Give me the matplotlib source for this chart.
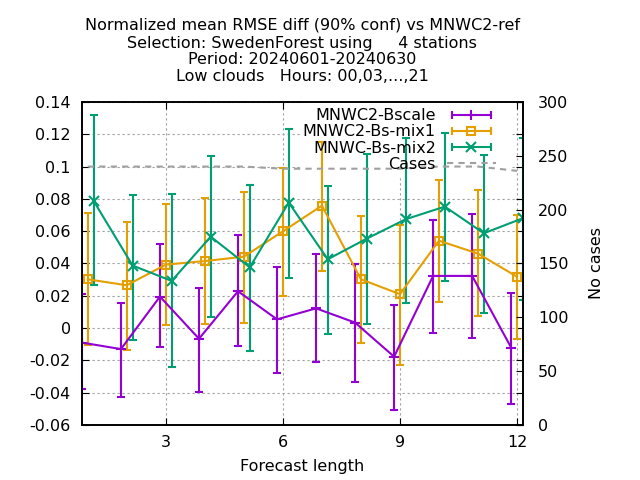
import matplotlib
matplotlib.use("Agg")
import matplotlib.pyplot as plt
from matplotlib.lines import Line2D
from matplotlib.patches import Rectangle
from matplotlib.legend_handler import HandlerLine2D, HandlerTuple

# forecast lengths
lengths = [1, 2, 3, 4, 5, 6, 7, 8, 9, 10, 11, 12]

# MNWC2-Bscale
bscale_mean = [-0.009, -0.013, 0.0195, -0.0066, 0.0228, 0.0054, 0.0122, 0.0034, -0.0177, 0.0323, 0.0323, -0.0121]
bscale_low = [-0.0375, -0.0425, -0.0117, -0.0396, -0.011, -0.0276, -0.0208, -0.0334, -0.0505, -0.0028, -0.0061, -0.047]
bscale_high = [0.021, 0.0157, 0.052, 0.025, 0.0578, 0.038, 0.0459, 0.0397, 0.0143, 0.0669, 0.0707, 0.022]

# MNWC2-Bs-mix1
mix1_mean = [0.0302, 0.0265, 0.0393, 0.0415, 0.0442, 0.0599, 0.0758, 0.0302, 0.021, 0.0541, 0.0461, 0.0318]
mix1_low = [-0.0103, -0.0134, 0.0019, 0.0027, 0.0034, 0.0201, 0.0356, -0.009, -0.0228, 0.0162, 0.0075, -0.0067]
mix1_high = [0.0715, 0.0659, 0.077, 0.0806, 0.0845, 0.0991, 0.1154, 0.0696, 0.0638, 0.0917, 0.0855, 0.07]

# MNWC-Bs-mix2
mix2_mean = [0.0787, 0.0387, 0.0292, 0.0566, 0.0376, 0.0777, 0.0426, 0.0554, 0.0674, 0.0752, 0.0587, 0.068]
mix2_low = [0.0269, -0.0072, -0.0239, 0.0071, -0.014, 0.0312, -0.0035, 0.0027, 0.0157, 0.0293, 0.0095, 0.0174]
mix2_high = [0.1317, 0.0824, 0.0832, 0.1066, 0.0886, 0.1235, 0.088, 0.1078, 0.1179, 0.121, 0.1072, 0.1179]

# number of cases (right axis)
cases = [240, 240, 240, 240, 240, 238, 238, 238, 238, 240, 240, 236]

title_lines = [
    "Normalized mean RMSE diff (90% conf) vs MNWC2-ref",
    "Selection: SwedenForest using     4 stations",
    "Period: 20240601-20240630",
    "Low clouds   Hours: 00,03,...,21",
]

series = [
    ("MNWC2-Bscale", bscale_mean, bscale_low, bscale_high, "#9400d3", "+", -0.15, 7),
    ("MNWC2-Bs-mix1", mix1_mean, mix1_low, mix1_high, "#e69f00", "s", 0.0, 5.5),
    ("MNWC-Bs-mix2", mix2_mean, mix2_low, mix2_high, "#009e73", "x", 0.15, 6.5),
]

FS = 11.5

fig = plt.figure(figsize=(6.4, 4.8), dpi=100)
ax = fig.add_axes([0.128, 0.1146, 0.689, 0.673])
ax2 = ax.twinx()
ax.set_axisbelow(True)

# key area hides the grid like gnuplot does
ax.add_patch(Rectangle((0.494, 0.765), 0.476, 0.235, transform=ax.transAxes,
                       facecolor="white", edgecolor="none", zorder=1))

handles = []
labels = []
handler_map = {}
for name, mean, low, high, color, marker, shift, msize in series:
    xs = [x + shift for x in lengths]
    err = [[m - lo for m, lo in zip(mean, low)], [hi - m for m, hi in zip(mean, high)]]
    ax.errorbar(xs, mean, yerr=err, color=color, lw=1.5, elinewidth=1.5,
                capsize=3, capthick=1.5, marker=marker, ms=msize,
                mfc="none", mew=1.5, zorder=3)
    caps = Line2D([], [], color=color, lw=1.5, marker="|", ms=6, mew=1.5)
    mark = Line2D([], [], color=color, lw=0, marker=marker, ms=msize, mfc="none", mew=1.5)
    handler_map[caps] = HandlerLine2D(numpoints=2)
    handler_map[mark] = HandlerLine2D(numpoints=1)
    handles.append((caps, mark))
    labels.append(name)

ax2.plot(lengths, cases, color="#a0a0a0", lw=1.5, ls=(0, (3, 2.5)))
handles.append(Line2D([], [], color="#a0a0a0", lw=1.5, ls=(0, (3, 2.5))))
labels.append("Cases")
handler_map[tuple] = HandlerTuple(ndivide=1, pad=0)

ax.set_xlim(0.85, 12.15)
ax.set_ylim(-0.06, 0.14)
ax2.set_ylim(0, 300)

ax.set_xticks([3, 6, 9, 12])
ax.set_yticks([-0.06, -0.04, -0.02, 0, 0.02, 0.04, 0.06, 0.08, 0.1, 0.12, 0.14])
ax.set_yticklabels(["-0.06", "-0.04", "-0.02", "0", "0.02", "0.04", "0.06", "0.08", "0.1", "0.12", "0.14"])
ax2.set_yticks([0, 50, 100, 150, 200, 250, 300])

ax.tick_params(direction="in", length=5, top=True, right=True, labelsize=FS)
ax.tick_params(axis="y", pad=8)
ax.tick_params(axis="x", pad=7)
ax2.tick_params(direction="in", length=5, labelsize=FS, pad=11)

ax.grid(True, color="#a0a0a0", lw=0.8, ls=(0, (2, 2.5)))
ax.set_xlabel("Forecast length", fontsize=FS, labelpad=7)
ax2.set_ylabel("No cases", fontsize=FS, labelpad=15)

for spine in list(ax.spines.values()) + list(ax2.spines.values()):
    spine.set_linewidth(1.2)

ax2.legend(handles, labels, handler_map=handler_map, loc="upper right",
           frameon=False, markerfirst=False, fontsize=FS, handlelength=3.05,
           handletextpad=0.7, labelspacing=0.07, borderaxespad=0.0,
           bbox_to_anchor=(0.953, 1.0))

for i, line in enumerate(title_lines):
    fig.text(0.472, [0.948, 0.910, 0.875, 0.840][i], line,
             ha="center", va="center", fontsize=FS)

fig.savefig("out.png", dpi=100)
